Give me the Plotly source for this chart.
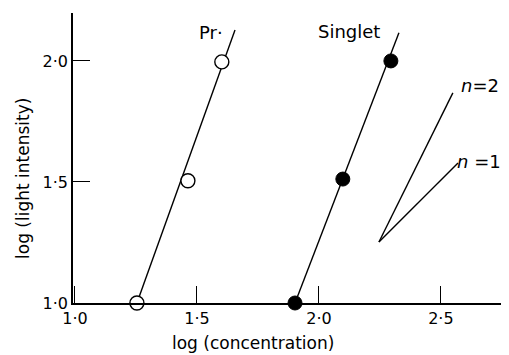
import plotly.graph_objects as go

# Data points
pr_x = [1.254, 1.463, 1.602]
pr_y = [1.00, 1.505, 1.996]
pr_line_x = [1.254, 1.656]
pr_line_y = [1.00, 2.128]

singlet_x = [1.902, 2.098, 2.295]
singlet_y = [1.00, 1.512, 2.000]
singlet_line_x = [1.902, 2.328]
singlet_line_y = [1.00, 2.116]

n2_x = [2.246, 2.549]
n2_y = [1.252, 1.868]
n1_x = [2.246, 2.570]
n1_y = [1.252, 1.578]

x_ticks = [1.0, 1.5, 2.0, 2.5]
x_ticktext = ["1·0", "1·5", "2·0", "2·5"]
y_ticks = [1.0, 1.5, 2.0]
y_ticktext = ["1·0", "1·5", "2·0"]

FONT = "DejaVu Sans"
line_style = dict(color="black", width=1.4)

fig = go.Figure()
fig.add_trace(go.Scatter(x=pr_line_x, y=pr_line_y, mode="lines", line=line_style,
                         showlegend=False, cliponaxis=False))
fig.add_trace(go.Scatter(x=singlet_line_x, y=singlet_line_y, mode="lines", line=line_style,
                         showlegend=False, cliponaxis=False))
fig.add_trace(go.Scatter(x=n2_x, y=n2_y, mode="lines", line=line_style, showlegend=False))
fig.add_trace(go.Scatter(x=n1_x, y=n1_y, mode="lines", line=line_style, showlegend=False))
fig.add_trace(go.Scatter(x=pr_x, y=pr_y, mode="markers", showlegend=False, cliponaxis=False,
                         marker=dict(symbol="circle", size=14, color="white",
                                     line=dict(color="black", width=1.4))))
fig.add_trace(go.Scatter(x=singlet_x, y=singlet_y, mode="markers", showlegend=False, cliponaxis=False,
                         marker=dict(symbol="circle", size=14, color="black",
                                     line=dict(color="black", width=1))))

ann_font = dict(family=FONT, size=18, color="black")
title_font = dict(family=FONT, size=17, color="black")
fig.add_annotation(x=1.558, y=2.116, text="Pr·", showarrow=False, font=ann_font)
fig.add_annotation(x=2.125, y=2.12, text="Singlet", showarrow=False, font=ann_font)
fig.add_annotation(x=2.66, y=1.90, text="<i>n</i>=2", showarrow=False, font=ann_font)
fig.add_annotation(x=2.656, y=1.583, text="<i>n</i> =1", showarrow=False, font=ann_font)

# axis titles
fig.add_annotation(xref="paper", yref="paper", x=0.414, y=-0.138, text="log (concentration)",
                   showarrow=False, font=title_font, xanchor="center", yanchor="middle")
fig.add_annotation(xref="paper", yref="paper", x=-0.115, y=0.431, text="log (light intensity)",
                   showarrow=False, font=title_font, textangle=-90, xanchor="center", yanchor="middle")

fig.update_xaxes(range=[0.992, 2.775], tickvals=x_ticks, ticktext=x_ticktext,
                 showline=True, linecolor="black", linewidth=1.5,
                 ticks="inside", ticklen=17, tickwidth=1.4, tickcolor="black",
                 showgrid=False, zeroline=False,
                 tickfont=dict(family=FONT, size=16, color="black"))
fig.update_yaxes(range=[1.0, 2.198], tickvals=y_ticks, ticktext=y_ticktext,
                 showline=True, linecolor="black", linewidth=1.5,
                 ticks="inside", ticklen=17, tickwidth=1.4, tickcolor="black",
                 showgrid=False, zeroline=False,
                 tickfont=dict(family=FONT, size=16, color="black"))

# page body adds an 8px offset; size the figure so the plot area lands where the reference has it
fig.update_layout(width=501, height=347, margin=dict(l=65, r=1, t=5, b=52),
                  plot_bgcolor="white", paper_bgcolor="white", showlegend=False)

fig.write_html("out.html")
